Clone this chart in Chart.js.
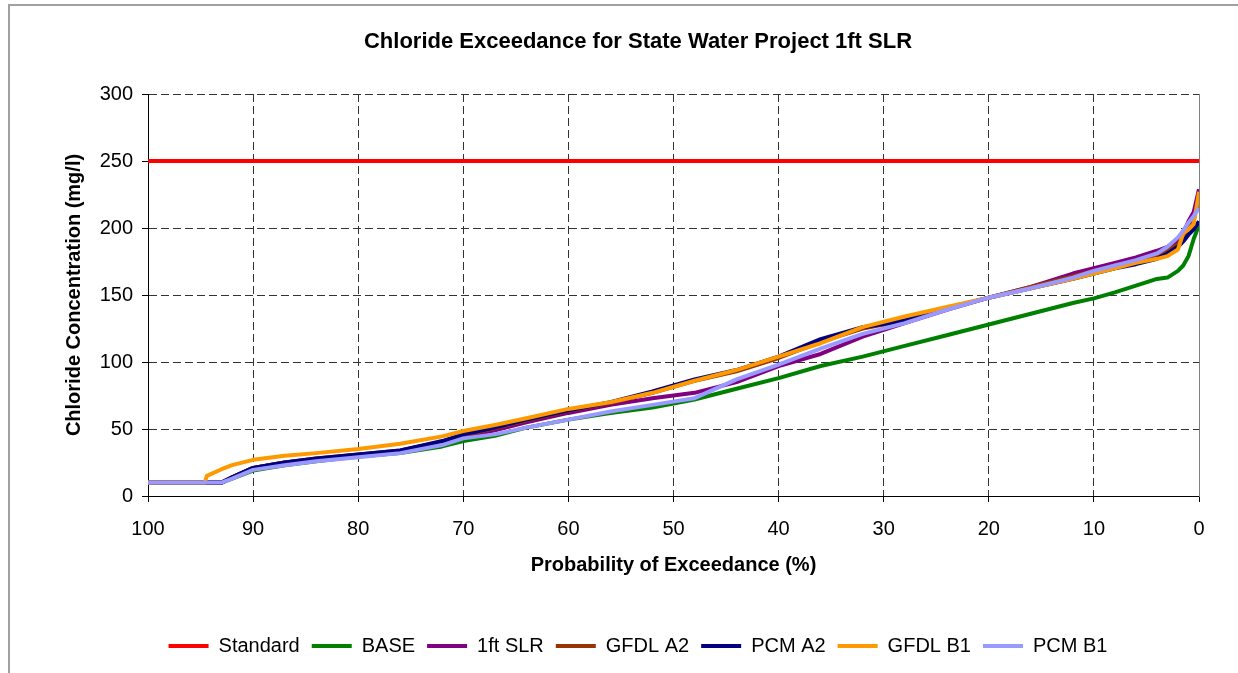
<!DOCTYPE html>
<html>
<head>
<meta charset="utf-8">
<title>Chloride Exceedance for State Water Project 1ft SLR</title>
<script src="https://cdn.jsdelivr.net/npm/chart.js"></script>
<style>
  html, body { margin: 0; padding: 0; background: #fff; overflow: hidden; }
  #frame { position: absolute; left: 8px; top: 4px; width: 1300px; height: 720px; border: 2px solid #a0a0a0; }
  #wrap { position: absolute; left: 0; top: 0; width: 1238px; height: 673px; }
</style>
</head>
<body>
<div id="frame"></div>
<div id="wrap"><canvas id="chart" width="1238" height="673"></canvas></div>
<script>
// probability of exceedance (%) shared by the model runs
const exceedPct = [100, 94.6, 94.4, 93, 92, 90, 87, 84, 80, 76, 72, 70, 67, 64, 60, 56, 52, 48, 44, 40,
  36, 32, 28, 24, 20, 16, 12, 10, 8, 6, 4, 3, 2, 1.5, 1, 0.5, 0];

const standardPct = [100, 0];
const standardVals = [250, 250];

const baseVals = [10, 10, 10, 10, 13, 19, 23, 26, 29.5, 32, 37, 41, 45, 51, 57, 62, 66, 72, 80, 88,
  97, 104, 112, 120, 128, 136, 144, 147.5, 152, 157, 162, 163, 168, 172, 179, 192, 202];
const slr1ftVals = [10, 10, 10, 10, 14, 21, 25, 27.5, 30.5, 33, 39, 44, 49, 55, 62, 68, 73, 77, 85, 97,
  106, 119, 129, 139, 148, 156, 166, 170, 174, 178, 183, 186, 190, 196, 205, 212, 229];
const gfdlA2Vals = [10, 10, 10, 10, 14, 21, 25, 28, 31, 34, 40.5, 45.5, 50.5, 56.5, 63.5, 69.5, 77, 86, 93, 103,
  115, 125, 131, 140, 148, 156, 164, 168, 172, 175, 180, 183, 188, 193, 200, 208, 220];
const pcmA2Vals = [10, 10, 10, 10, 14, 21, 25, 28, 31, 34, 41, 46, 51, 57, 64, 70, 78, 87, 94, 104,
  117, 126, 131, 140, 148, 155, 162, 166, 170, 173, 177, 181, 186, 190, 195, 199, 205];
const gfdlB1Vals = [10, 10, 15, 20, 23, 27, 30, 32, 35, 39, 44.5, 48.5, 53, 58, 65, 70, 77, 86, 94, 104,
  114, 126, 134, 141, 148, 155, 162, 166, 170, 174, 177, 179, 184, 196, 199, 203, 227];
const pcmB1Vals = [10, 10, 10, 10, 13, 19.5, 23, 26, 29, 32, 38, 43, 46, 51, 57, 63, 68, 73, 87, 98,
  110, 121, 129, 139, 148, 155, 163, 168, 172, 176, 181, 186, 193, 198, 204, 209, 215];

const seriesNames = ['Standard', 'BASE', '1ft SLR', 'GFDL A2', 'PCM A2', 'GFDL B1', 'PCM B1'];
const seriesColors = ['#ff0000', '#008000', '#800080', '#993300', '#000080', '#ff9900', '#9999ff'];
const seriesVals = [standardVals, baseVals, slr1ftVals, gfdlA2Vals, pcmA2Vals, gfdlB1Vals, pcmB1Vals];

function toPoints(xs, ys) {
  return xs.map((x, i) => ({ x: x, y: ys[i] }));
}

const datasets = seriesNames.map((name, i) => ({
  label: name,
  data: toPoints(i === 0 ? standardPct : exceedPct, seriesVals[i]),
  borderColor: seriesColors[i],
  backgroundColor: seriesColors[i],
  borderWidth: 4,
  pointRadius: 0,
  tension: 0,
  fill: false,
  order: seriesNames.length - i // later series painted on top, like the original
}));

Chart.defaults.font.family = '"Liberation Sans", Arial, sans-serif';
Chart.defaults.color = '#000';

const gridDash = [8, 4];

new Chart(document.getElementById('chart').getContext('2d'), {
  type: 'line',
  data: { datasets: datasets },
  options: {
    responsive: false,
    animation: false,
    layout: { padding: { left: 77, right: 39, top: 0, bottom: 7 } },
    elements: { line: { borderJoinStyle: 'round', borderCapStyle: 'butt' } },
    plugins: {
      title: {
        display: true,
        text: 'Chloride Exceedance for State Water Project 1ft SLR',
        font: { size: 22, weight: 'bold' },
        color: '#000',
        padding: { top: 29, bottom: 38.6 }
      },
      legend: {
        position: 'bottom',
        labels: {
          usePointStyle: true,
          pointStyle: 'line',
          pointStyleWidth: 40,
          font: { size: 20 },
          color: '#000',
          padding: 12,
          sort: (a, b) => a.datasetIndex - b.datasetIndex
        }
      },
      tooltip: { enabled: false }
    },
    scales: {
      x: {
        type: 'linear',
        reverse: true,
        min: 0,
        max: 100,
        ticks: { stepSize: 10, font: { size: 20 }, padding: 15 },
        grid: { color: '#333', tickColor: '#000', tickLength: 6, lineWidth: 1 },
        border: { color: '#000', width: 1, dash: gridDash },
        title: {
          display: true,
          text: 'Probability of Exceedance (%)',
          font: { size: 20, weight: 'bold' },
          padding: { top: 0, bottom: 47 }
        },
        afterFit: (scale) => { scale.height = 128; }
      },
      y: {
        min: 0,
        max: 300,
        ticks: { stepSize: 50, font: { size: 20 }, padding: 9 },
        grid: { color: '#333', tickColor: '#000', tickLength: 6, lineWidth: 1 },
        border: { color: '#000', width: 1, dash: gridDash },
        title: {
          display: true,
          text: 'Chloride Concentration (mg/l)',
          font: { size: 20, weight: 'bold' },
          padding: { top: -15, bottom: 0 }
        },
        afterFit: (scale) => { scale.width = 71; }
      },
      yRight: {
        position: 'right',
        min: 0,
        max: 300,
        ticks: { display: false },
        grid: { display: false, drawTicks: false },
        border: { color: '#808080', width: 1 },
        afterFit: (scale) => { scale.width = 0; }
      }
    }
  }
});
</script>
</body>
</html>
